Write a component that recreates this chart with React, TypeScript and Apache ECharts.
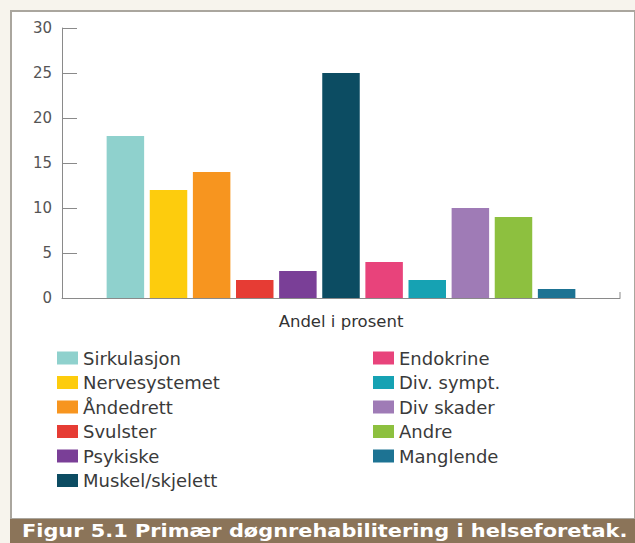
import React, { useEffect, useRef } from "react";
import * as echarts from "echarts";

const categories = ["Andel i prosent"];
const seriesNames = [
  "Sirkulasjon",
  "Nervesystemet",
  "Åndedrett",
  "Svulster",
  "Psykiske",
  "Muskel/skjelett",
  "Endokrine",
  "Div. sympt.",
  "Div skader",
  "Andre",
  "Manglende",
];
const seriesValues = [18, 12, 14, 2, 3, 25, 4, 2, 10, 9, 1];
const seriesColors = [
  "#8fd1cd",
  "#fdcc0d",
  "#f7951f",
  "#e63c34",
  "#7a3f97",
  "#0c4c62",
  "#e8437b",
  "#16a2b3",
  "#9f7bb6",
  "#8dc03f",
  "#1d7393",
];
const yTicks = [0, 5, 10, 15, 20, 25, 30];
const captionText = "Figur 5.1 Primær døgnrehabilitering i helseforetak.";

export default function App() {
  const ref = useRef<HTMLDivElement>(null);
  useEffect(() => {
    document.body.style.margin = "0";
    const chart = echarts.init(ref.current!, null, { renderer: "svg" });
    const font = "DejaVu Sans";
    const legendText = {
      color: "#3a3a3a",
      fontSize: 18,
      fontFamily: font,
      lineHeight: 18,
    };
    const legendCommon = {
      orient: "vertical",
      top: 344,
      itemWidth: 21,
      itemHeight: 13,
      itemGap: 6.5,
      icon: "rect",
      textStyle: legendText,
      selectedMode: false,
    };
    chart.setOption({
      animation: false,
      backgroundColor: "#f7f4ed",
      textStyle: { fontFamily: font },
      graphic: [
        {
          type: "rect",
          z: -10,
          shape: { x: 11, y: 11, width: 624, height: 508 },
          style: { fill: "#ffffff", stroke: "#aaa69e", lineWidth: 2 },
        },
        {
          type: "rect",
          z: -5,
          shape: { x: 10, y: 519, width: 625, height: 24 },
          style: { fill: "#8b7459" },
        },
        {
          type: "text",
          z: 10,
          x: 22,
          y: 531,
          scaleX: 1.16,
          style: {
            text: captionText,
            fill: "#ffffff",
            fontSize: 18,
            fontWeight: "bold",
            fontFamily: font,
            verticalAlign: "middle",
          },
        },
        {
          type: "line",
          z: 10,
          shape: { x1: 620, y1: 292, x2: 620, y2: 298 },
          style: { stroke: "#8a8a8a", lineWidth: 1 },
        },
      ],
      legend: [
        { ...legendCommon, data: seriesNames.slice(0, 6), left: 52 },
        { ...legendCommon, data: seriesNames.slice(6), left: 368 },
      ],
      grid: { left: 62, right: 15, top: 28, bottom: 245, containLabel: false },
      xAxis: {
        type: "category",
        data: categories,
        axisLine: { lineStyle: { color: "#8a8a8a", width: 1 } },
        axisTick: { show: false },
        axisLabel: { color: "#333333", fontSize: 16.5, margin: 15 },
      },
      yAxis: {
        type: "value",
        min: yTicks[0],
        max: yTicks[yTicks.length - 1],
        interval: 5,
        splitLine: { show: false },
        axisLine: { show: true, lineStyle: { color: "#8a8a8a", width: 1 } },
        axisTick: { show: true, inside: true, length: 15, lineStyle: { color: "#8a8a8a" } },
        axisLabel: { color: "#555555", fontSize: 15, margin: 10 },
      },
      series: seriesNames.map((name, i) => ({
        name,
        type: "bar",
        data: [seriesValues[i]],
        itemStyle: { color: seriesColors[i] },
        barCategoryGap: "16%",
        barGap: "15%",
      })),
    });
    return () => chart.dispose();
  }, []);
  return <div ref={ref} style={{ width: 635, height: 543 }} />;
}
